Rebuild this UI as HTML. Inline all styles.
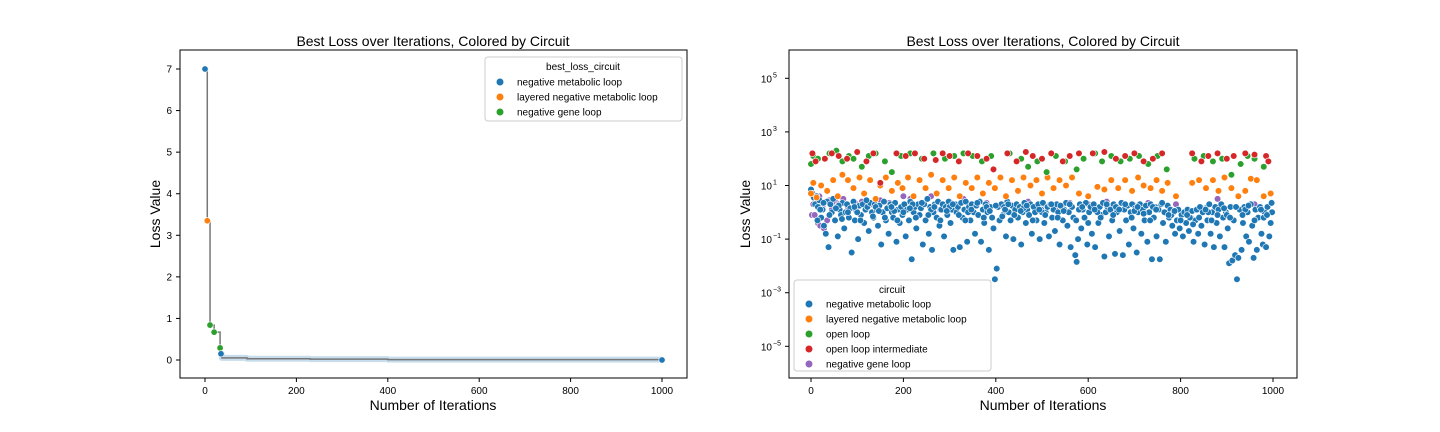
<!DOCTYPE html>
<html><head><meta charset="utf-8"><style>
body{margin:0;background:#fff;}
svg{display:block;font-family:"Liberation Sans","DejaVu Sans",sans-serif;}
</style></head><body>
<svg id="fig" width="1440" height="432" xmlns="http://www.w3.org/2000/svg">
<rect width="1440" height="432" fill="#fff"/>
<g id="left"></g>
<g id="right"></g>
</svg>
<script>
// ---- left chart data ----
const leftIters=[0,5,11,20,33,35,37,92,230,400,1000];
const leftLoss=[7,3.35,0.84,0.67,0.29,0.15,0.05,0.03,0.02,0.01,0.0];
const leftCirc=[0,1,2,2,2,0,0,0,0,0,0];
const leftPointIdx=[0,1,2,3,4,5,10];
const leftXTicks=[0,200,400,600,800,1000];
const leftYTicks=[0,1,2,3,4,5,6,7];
const leftLegend=["negative metabolic loop","layered negative metabolic loop","negative gene loop"];
// ---- right chart data: [iteration, log10(loss)] ----
const blueData=[[0,0.85],[3,0.7],[6,0.55],[9,0.3],[12,0.6],[15,0.2],[18,0.45],[22,-0.2],[25,0.1],[28,-0.5],[32,-0.8],[35,0.4],[38,-1.3],[42,0.3],[45,0.0],[48,0.5],[52,-0.3],[55,0.2],[58,-0.9],[62,0.1],[65,-0.1],[68,0.35],[72,-0.6],[75,0.0],[78,0.3],[82,-0.2],[85,0.15],[88,-1.5],[92,0.4],[95,-0.3],[98,0.05],[102,-1.0],[105,0.25],[108,-0.1],[112,0.3],[115,-0.4],[118,0.1],[122,0.2],[125,-0.7],[128,0.35],[132,0.0],[135,-0.2],[138,0.3],[142,0.1],[145,-0.5],[148,0.25],[152,-1.2],[155,0.0],[158,0.4],[162,-0.3],[165,0.15],[168,-0.8],[172,0.3],[175,0.0],[178,-0.2],[182,0.35],[185,-1.1],[188,0.1],[192,-0.4],[195,0.2],[198,-0.1],[202,0.3],[205,-0.9],[208,0.1],[212,-0.3],[215,0.4],[218,-1.75],[222,0.0],[225,0.2],[228,-0.6],[232,0.3],[235,-0.1],[238,0.15],[242,-1.2],[245,0.3],[248,-0.3],[252,0.5],[255,-0.8],[258,0.2],[262,-1.4],[265,0.0],[268,0.3],[272,-0.2],[275,0.4],[278,-0.5],[282,0.1],[285,0.3],[288,-0.9],[292,0.2],[295,-0.1],[298,0.4],[302,-0.4],[305,0.1],[308,-1.4],[312,0.3],[315,0.0],[318,0.2],[322,-1.3],[325,0.35],[328,-0.2],[332,0.1],[335,0.4],[338,-1.1],[342,0.2],[345,-0.3],[348,0.3],[352,0.0],[355,-0.8],[358,0.25],[362,-0.1],[365,0.4],[368,-1.1],[372,0.1],[375,-0.4],[378,0.3],[382,0.0],[385,-1.4],[388,0.2],[392,-0.2],[395,-0.6],[398,-2.5],[402,-2.1],[405,0.2],[408,-0.3],[412,0.3],[415,-0.1],[418,0.2],[422,-0.9],[425,0.4],[428,0.0],[432,-0.3],[435,0.25],[438,-1.0],[442,0.1],[445,0.3],[448,-0.2],[452,0.2],[455,-1.2],[458,0.0],[462,0.35],[465,-0.4],[468,0.1],[472,-0.1],[475,0.3],[478,-0.8],[482,0.2],[485,0.0],[488,-0.3],[492,0.3],[495,-1.0],[498,0.1],[502,0.35],[505,-0.4],[508,0.0],[512,0.2],[515,-0.9],[518,0.3],[522,-0.2],[525,0.1],[528,-0.7],[532,0.3],[535,0.0],[538,-1.2],[542,0.2],[545,-0.3],[548,0.1],[552,0.35],[555,-0.5],[558,0.0],[562,-1.3],[565,0.2],[568,-0.2],[572,-1.6],[575,-1.85],[578,-1.0],[582,0.3],[585,-0.6],[588,0.1],[592,-0.2],[595,0.35],[598,-1.2],[602,0.0],[605,0.2],[608,-0.8],[612,0.3],[615,-1.3],[618,0.1],[622,-0.4],[625,0.2],[628,-0.1],[632,0.35],[635,-1.65],[638,0.0],[642,0.2],[645,-0.9],[648,0.1],[652,-0.3],[655,0.3],[658,-1.55],[662,0.0],[665,0.2],[668,-0.7],[672,0.35],[675,-1.6],[678,0.1],[682,-0.3],[685,0.25],[688,-1.2],[692,0.0],[695,0.3],[698,-0.6],[702,0.15],[705,-1.5],[708,0.0],[712,0.3],[715,-0.8],[718,0.1],[722,-0.3],[725,0.25],[728,-1.1],[732,0.0],[735,0.3],[738,-1.75],[742,-0.2],[745,0.2],[748,-0.9],[752,0.1],[755,-1.75],[758,0.3],[762,-0.4],[765,0.0],[768,-1.1],[772,0.25],[775,-0.2],[778,0.1],[782,-0.5],[785,0.0],[788,-0.8],[792,-0.3],[795,0.1],[798,-0.6],[802,-0.1],[805,-0.9],[808,0.0],[812,-0.4],[815,0.1],[818,-0.7],[822,-0.2],[825,0.05],[828,-1.1],[832,-0.3],[835,0.1],[838,-0.8],[842,0.2],[845,-0.5],[848,0.0],[852,-1.2],[855,0.15],[858,-0.3],[862,0.3],[865,-0.8],[868,0.0],[872,-1.3],[875,0.2],[878,-0.4],[882,0.1],[885,-0.9],[888,0.3],[892,-0.2],[895,-1.3],[898,0.0],[902,-0.6],[905,-1.9],[908,0.2],[912,-1.8],[915,-0.3],[918,-1.6],[922,-2.5],[925,-1.7],[928,0.1],[932,-1.4],[935,-0.4],[938,0.2],[942,-0.9],[945,0.0],[948,-1.1],[952,0.3],[955,-0.5],[958,-1.7],[962,0.1],[965,-1.4],[968,-0.2],[972,0.2],[975,-0.8],[978,-1.2],[982,0.0],[985,-1.3],[988,0.2],[992,-0.9],[995,-0.4],[998,0.0],
[20,0.1],[60,0.25],[100,0.0],[140,0.2],[180,0.05],[220,0.3],[260,0.1],[300,0.2],[340,0.0],[380,0.2],[420,0.1],[460,0.15],[500,0.0],[540,0.25],[580,0.1],[620,0.0],[660,0.2],[700,0.05],[740,0.2],[780,-0.1],[820,-0.2],[860,0.0],[900,-0.1],[940,0.1],[980,-0.2],
[14,-0.3],[27,0.35],[40,-0.1],[54,0.15],[67,-0.25],[80,0.0],[94,0.2],[107,-0.3],[120,0.45],[134,-0.15],[147,0.05],[160,-0.2],[174,0.2],[187,-0.3],[200,0.0],[214,0.15],[227,-0.2],[240,0.35],[254,-0.1],[267,0.2],[280,-0.3],[294,0.05],[307,0.3],[320,-0.1],[334,-0.3],[347,0.1],[360,0.35],[374,-0.2],[387,0.05],[400,0.25],[414,-0.15],[427,0.3],[440,-0.1],[454,0.05],[467,0.25],[480,-0.3],[494,0.1],[507,-0.1],[520,0.3],[534,-0.2],[547,0.05],[560,0.3],[574,-0.3],[587,0.2],[600,-0.4],[614,0.1],[627,-0.2],[640,0.3],[654,-0.1],[667,0.1],[680,0.3],[694,-0.2],[707,0.2],[720,-0.05],[734,-0.3],[747,0.1],[760,0.35],[774,-0.1],[787,0.05],[800,-0.3],[814,-0.1],[827,-0.45],[840,-0.2],[854,0.1],[867,-0.3],[880,-0.1],[894,0.15],[907,-0.2],[920,0.2],[934,-0.1],[947,0.25],[960,-0.3],[974,0.1],[987,-0.1],[997,0.35]];
const orangeData=[[0,0.7],[5,1.1],[12,0.55],[22,1.0],[35,0.8],[48,1.2],[58,0.6],[68,1.4],[80,1.2],[92,0.9],[105,1.3],[115,0.7],[128,1.2],[140,0.5],[150,1.0],[162,1.3],[175,0.8],[188,1.1],[198,0.9],[210,1.3],[222,0.6],[235,1.2],[248,0.9],[260,1.4],[272,0.7],[285,1.2],[298,0.9],[310,1.3],[322,0.6],[335,1.1],[348,0.9],[360,1.3],[372,0.7],[385,1.1],[398,0.9],[410,1.3],[422,0.6],[435,1.2],[448,0.8],[460,1.3],[475,1.0],[488,1.2],[500,0.7],[512,1.3],[525,0.9],[538,1.2],[552,1.0],[565,1.3],[580,0.7],[600,0.6],[620,0.95],[635,0.85],[650,1.2],[665,0.9],[680,1.2],[695,0.8],[708,1.3],[720,1.0],[735,0.9],[748,1.2],[760,0.8],[772,1.1],[790,0.6],[825,1.1],[840,1.2],[855,0.9],[870,1.2],[882,0.8],[895,1.3],[910,0.9],[925,0.6],[940,0.8],[952,1.25],[965,1.2],[980,0.6],[995,0.7]];
const greenData=[[0,1.8],[5,2.1],[15,2.0],[40,2.2],[55,2.3],[68,1.9],[82,2.1],[92,2.0],[110,1.7],[125,2.1],[140,2.2],[160,1.9],[175,1.5],[195,2.1],[215,2.2],[240,2.0],[265,2.2],[290,2.0],[310,2.1],[330,2.2],[350,2.1],[370,1.9],[390,2.1],[430,2.2],[455,2.0],[470,1.7],[490,1.9],[510,1.5],[530,2.1],[550,1.9],[575,1.6],[590,2.0],[615,2.2],[630,1.9],[650,2.1],[670,1.9],[690,2.0],[710,2.1],[730,1.8],[750,2.1],[770,1.6],[830,2.0],[850,2.1],[870,1.9],[890,2.0],[910,1.4],[930,1.8],[945,2.1],[960,2.0],[980,1.7]];
const redData=[[3,2.2],[10,1.9],[30,2.0],[45,2.2],[60,2.1],[78,2.0],[100,2.25],[120,1.9],[135,2.2],[150,1.1],[185,2.2],[205,2.1],[225,2.2],[245,2.0],[270,1.95],[285,2.2],[300,2.1],[320,1.9],[340,2.2],[360,2.1],[380,2.0],[395,1.6],[425,2.2],[445,1.9],[465,2.25],[480,2.1],[500,2.0],[520,2.2],[545,1.9],[560,2.1],[580,2.2],[610,2.2],[635,2.25],[660,2.0],[680,2.1],[700,2.2],[720,1.9],[740,2.0],[760,2.2],[825,2.2],[845,1.9],[860,2.1],[880,2.2],[900,2.0],[915,2.1],[940,2.2],[960,2.15],[985,2.1],[990,1.9]];
const purpleData=[[2,-0.1],[5,0.3],[8,-0.1],[12,0.5],[15,-0.4],[18,0.6],[20,-0.5],[25,0.2],[28,-0.6],[32,0.4],[35,-0.3],[40,0.45],[45,0.1],[52,0.4],[60,0.3],[70,0.5],[80,0.2],[95,0.35],[110,0.4],[130,0.3],[150,0.45],[170,0.35],[200,0.6],[215,0.5],[240,0.3],[260,0.6],[280,0.1],[300,0.4],[330,0.5],[350,0.2],[380,0.35],[420,0.3],[450,0.1],[470,0.4],[500,0.3],[530,0.2],[560,0.35],[600,0.3],[640,0.4],[700,0.25],[730,0.35],[750,0.2],[790,0.3],[880,0.5],[960,0.3],[975,0.1]];
const rightXTicks=[0,200,400,600,800,1000];
const rightYTickExp=[5,3,1,-1,-3,-5];
const rightLegend=["negative metabolic loop","layered negative metabolic loop","open loop","open loop intermediate","negative gene loop"];

const COLORS=["#1f77b4","#ff7f0e","#2ca02c","#d62728","#9467bd"];
const NS="http://www.w3.org/2000/svg";
function mk(parent,tag,attrs,text){const e=document.createElementNS(NS,tag);for(const k in attrs)e.setAttribute(k,attrs[k]);if(text!==undefined)e.textContent=text;parent.appendChild(e);return e;}

// ---- left chart ----
const L=document.getElementById('left');
const lx=v=>205+v*0.457, ly=v=>360-v*41.57;
mk(L,'rect',{x:180,y:50,width:507,height:328,fill:'none',stroke:'#000','stroke-width':1});
let line='M'+lx(leftIters[0])+','+ly(leftLoss[0]);
for(let i=1;i<leftIters.length;i++){line+=' L'+lx(leftIters[i])+','+ly(leftLoss[i-1])+' L'+lx(leftIters[i])+','+ly(leftLoss[i]);}
let bline='M'+lx(leftIters[5])+','+ly(leftLoss[5]);
for(let i=6;i<leftIters.length;i++){bline+=' L'+lx(leftIters[i])+','+ly(leftLoss[i-1])+' L'+lx(leftIters[i])+','+ly(leftLoss[i]);}
const bandPath=mk(L,'path',{d:bline,fill:'none',stroke:'#1f77b4','stroke-opacity':0.25,'stroke-width':6,'stroke-linejoin':'round'});


const lp=mk(L,'path',{d:line,fill:'none',stroke:'#777','stroke-width':1.5});


leftPointIdx.forEach(i=>{const c=mk(L,'circle',{cx:lx(leftIters[i]),cy:ly(leftLoss[i]),r:3.2,fill:COLORS[leftCirc[i]],stroke:'#fff','stroke-width':0.6});

});
leftXTicks.forEach(t=>{mk(L,'line',{x1:lx(t),x2:lx(t),y1:378,y2:382,stroke:'#000'});const tx=mk(L,'text',{x:lx(t),y:394,'font-size':10,'text-anchor':'middle'},String(t));});
leftYTicks.forEach(t=>{mk(L,'line',{x1:176,x2:180,y1:ly(t),y2:ly(t),stroke:'#000'});const tx=mk(L,'text',{x:172,y:ly(t)+3.5,'font-size':10,'text-anchor':'end'},String(t));});
let e;
e=mk(L,'text',{x:433,y:46,'font-size':14,'text-anchor':'middle'},'Best Loss over Iterations, Colored by Circuit');

e=mk(L,'text',{x:433,y:410,'font-size':14,'text-anchor':'middle'},'Number of Iterations');

e=mk(L,'text',{x:160,y:214,'font-size':14,'text-anchor':'middle',transform:'rotate(-90 160 214)'},'Loss Value');

const lg=mk(L,'g',{});


mk(lg,'rect',{x:485,y:57,width:197,height:64,rx:3,fill:'#fff',stroke:'#ccc'});
mk(lg,'text',{x:583,y:70,'font-size':10,'text-anchor':'middle'},'best_loss_circuit');
leftLegend.forEach((s,i)=>{const g=mk(lg,'g',{});mk(g,'circle',{cx:500,cy:82+i*15,r:3.5,fill:COLORS[i]});mk(g,'text',{x:517,y:85.5+i*15,'font-size':10},s);});

// ---- right chart ----
const R=document.getElementById('right');
const rx=v=>811+v*0.462, ry=lg10=>185.5-(lg10-1)*26.8;
mk(R,'rect',{x:789,y:50,width:508,height:328,fill:'none',stroke:'#000'});
const series=[blueData,orangeData,greenData,redData,purpleData];
const names=['negative-metabolic-loop','layered-negative-metabolic-loop','open-loop','open-loop-intermediate','negative-gene-loop'];
[4,0,1,2,3].forEach(si=>{series[si].forEach(p=>{const c=mk(R,'circle',{cx:rx(p[0]),cy:ry(p[1]),r:3.3,fill:COLORS[si],stroke:'#fff','stroke-width':0.6});

});});
rightXTicks.forEach(t=>{mk(R,'line',{x1:rx(t),x2:rx(t),y1:378,y2:382,stroke:'#000'});const tx=mk(R,'text',{x:rx(t),y:394,'font-size':10,'text-anchor':'middle'},String(t));});
rightYTickExp.forEach(t=>{const y=ry(t);mk(R,'line',{x1:785,x2:789,y1:y,y2:y,stroke:'#000'});const tx=mk(R,'text',{x:772,y:y+4,'font-size':10,'text-anchor':'end'},'10');const sp=mk(R,'text',{x:773,y:y-1,'font-size':7,'text-anchor':'start'},t<0?'\u2212'+(-t):String(t));});
e=mk(R,'text',{x:1043,y:46,'font-size':14,'text-anchor':'middle'},'Best Loss over Iterations, Colored by Circuit');

e=mk(R,'text',{x:1043,y:410,'font-size':14,'text-anchor':'middle'},'Number of Iterations');

e=mk(R,'text',{x:750,y:214,'font-size':14,'text-anchor':'middle',transform:'rotate(-90 750 214)'},'Loss Value');

const rg=mk(R,'g',{});


mk(rg,'rect',{x:794,y:280,width:197,height:91,rx:3,fill:'#fff',stroke:'#ccc'});
mk(rg,'text',{x:892,y:293,'font-size':10,'text-anchor':'middle'},'circuit');
rightLegend.forEach((s,i)=>{const g=mk(rg,'g',{});mk(g,'circle',{cx:809,cy:304+i*15,r:3.5,fill:COLORS[i]});mk(g,'text',{x:826,y:307.5+i*15,'font-size':10},s);});
</script>
</body></html>
